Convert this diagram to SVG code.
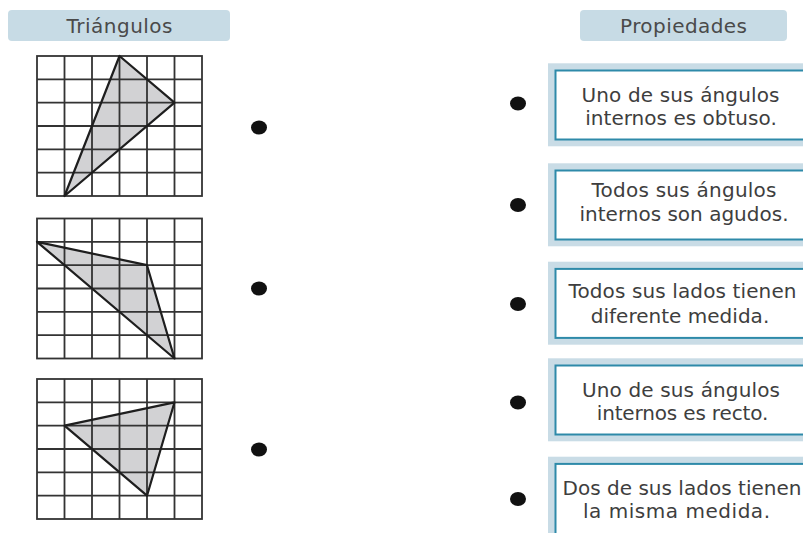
<svg xmlns="http://www.w3.org/2000/svg" xmlns:xlink="http://www.w3.org/1999/xlink" width="803" height="533" viewBox="0 0 803 533">
<style>
.hdr{fill:#c7dbe5}
.htxt{font-family:"DejaVu Sans","Liberation Sans",sans-serif;font-size:20px;fill:#4a4a4a;text-anchor:middle}
.gl{stroke:#333;stroke-width:1.8;fill:none}
.tri{fill:#d2d2d4;stroke:none}
.tro{fill:none;stroke:#1e1e1e;stroke-width:2.2;stroke-linejoin:round}
.dot{fill:#111}
.frame{fill:#c9dce6}
.inner{fill:#fff;stroke:#2e8aa9;stroke-width:2}
.ptxt{font-family:"DejaVu Sans","Liberation Sans",sans-serif;font-size:20px;fill:#3e3e3e;text-anchor:middle}
</style>
<defs>
<g id="grid">
<rect class="gl" x="0" y="0" width="165" height="140"/>
<path class="gl" d="M27.5 0V140M55 0V140M82.5 0V140M110 0V140M137.5 0V140M0 23.33H165M0 46.67H165M0 70H165M0 93.33H165M0 116.67H165"/>
</g>
</defs>
<g id="header-triangulos">
<rect class="hdr" x="8" y="10" width="222" height="31" rx="4"/>
<text class="htxt" x="119.5" y="33" textLength="106">Triángulos</text>
</g>
<g id="header-propiedades">
<rect class="hdr" x="580" y="10" width="207" height="31" rx="4"/>
<text class="htxt" x="683.5" y="33" textLength="127">Propiedades</text>
</g>
<g id="triangle-1">
<polygon class="tri" points="119.5,56 174.5,102.7 64.5,196"/>
<use xlink:href="#grid" x="37" y="56"/>
<polygon class="tro" points="119.5,56 174.5,102.7 64.5,196"/>
<ellipse class="dot" cx="259" cy="127.5" rx="8" ry="7"/>
</g>
<g id="triangle-2">
<polygon class="tri" points="37,241.8 147,265.2 174.5,358.5"/>
<use xlink:href="#grid" x="37" y="218.5"/>
<polygon class="tro" points="37,241.8 147,265.2 174.5,358.5"/>
<ellipse class="dot" cx="259" cy="288.5" rx="8" ry="7"/>
</g>
<g id="triangle-3">
<polygon class="tri" points="64.5,425.7 174.5,402.3 147,495.7"/>
<use xlink:href="#grid" x="37" y="379"/>
<polygon class="tro" points="64.5,425.7 174.5,402.3 147,495.7"/>
<ellipse class="dot" cx="259" cy="449.5" rx="8" ry="7"/>
</g>
<g id="prop-1">
<ellipse class="dot" cx="518" cy="103.5" rx="8" ry="7"/>
<rect class="frame" x="548" y="63.3" width="270" height="83"/>
<rect class="inner" x="555.5" y="70.5" width="260" height="69"/>
<text class="ptxt" x="680.5" y="101.7" textLength="198">Uno de sus ángulos</text>
<text class="ptxt" x="681" y="125" textLength="191.5">internos es obtuso.</text>
</g>
<g id="prop-2">
<ellipse class="dot" cx="518" cy="205" rx="8" ry="7"/>
<rect class="frame" x="548" y="163.3" width="270" height="83"/>
<rect class="inner" x="555.5" y="170.5" width="260" height="69"/>
<text class="ptxt" x="684" y="196.5" textLength="185">Todos sus ángulos</text>
<text class="ptxt" x="684" y="221" textLength="209">internos son agudos.</text>
</g>
<g id="prop-3">
<ellipse class="dot" cx="518" cy="304" rx="8" ry="7"/>
<rect class="frame" x="548" y="261.7" width="270" height="83"/>
<rect class="inner" x="555.5" y="268.9" width="260" height="69"/>
<text class="ptxt" x="682.5" y="298.3" textLength="228">Todos sus lados tienen</text>
<text class="ptxt" x="680" y="323.3" textLength="178.5">diferente medida.</text>
</g>
<g id="prop-4">
<ellipse class="dot" cx="518" cy="402.5" rx="8" ry="7"/>
<rect class="frame" x="548" y="358.3" width="270" height="83"/>
<rect class="inner" x="555.5" y="365.5" width="260" height="69"/>
<text class="ptxt" x="681" y="396.7" textLength="198">Uno de sus ángulos</text>
<text class="ptxt" x="682.5" y="420" textLength="171.5">internos es recto.</text>
</g>
<g id="prop-5">
<ellipse class="dot" cx="518" cy="499" rx="8" ry="7"/>
<rect class="frame" x="548" y="456.7" width="270" height="83"/>
<rect class="inner" x="555.5" y="463.9" width="260" height="80"/>
<text class="ptxt" x="682" y="495" textLength="239">Dos de sus lados tienen</text>
<text class="ptxt" x="676.5" y="518.3" textLength="187">la misma medida.</text>
</g>
</svg>
